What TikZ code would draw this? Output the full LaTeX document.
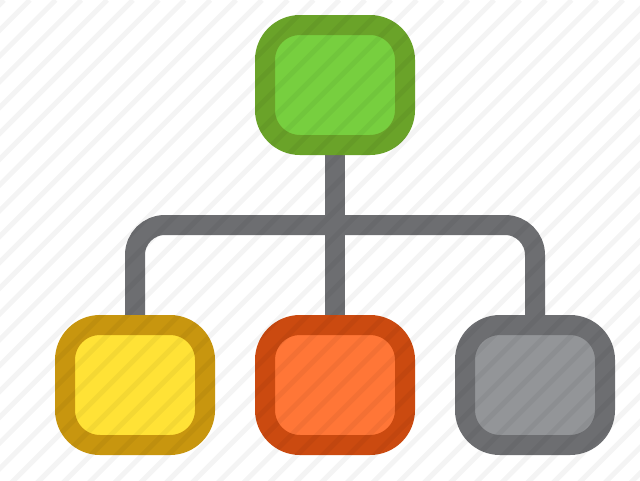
\documentclass[tikz,border=0pt]{standalone}
\pgfdeclarelayer{back}
\pgfdeclarelayer{wires}
\pgfdeclarelayer{front}
\pgfsetlayers{back,wires,main,front}
\definecolor{greenO}{HTML}{6AA329}
\definecolor{greenI}{HTML}{77CF3F}
\definecolor{yellowO}{HTML}{C8960F}
\definecolor{yellowI}{HTML}{FFE236}
\definecolor{orangeO}{HTML}{CB4A10}
\definecolor{orangeI}{HTML}{FF7637}
\definecolor{grayO}{HTML}{6D6E71}
\definecolor{grayI}{HTML}{939598}
\tikzset{
  box/.style={draw=#1O, fill=#1I, line width=20pt, rounded corners=35pt,
    minimum width=140pt, minimum height=120pt, inner sep=0pt, outer sep=0pt},
  wire/.style={draw=grayO, line width=20pt},
  stripe/.style={black, opacity=0.045, line width=5pt}
}
\begin{document}
\begin{tikzpicture}[x=1pt,y=-1pt]
\useasboundingbox (0,0) rectangle (640,480);
\begin{pgfonlayer}{back}
  \fill[white] (0,0) rectangle (640,480);
\end{pgfonlayer}
\node[box=green]  (top)    at (335,85)  {};
\node[box=yellow] (yellow) at (135,385) {};
\node[box=orange] (orange) at (335,385) {};
\node[box=gray]   (gray)   at (535,385) {};
\coordinate (bus) at (335,225);
\begin{pgfonlayer}{wires}
  \draw[wire, rounded corners=30pt] (yellow.north) |- (bus) -| (gray.north);
  \draw[wire] (top.south) -- (orange.north);
\end{pgfonlayer}
\begin{pgfonlayer}{front}
  \clip (0,0) rectangle (640,480);
  \foreach \c in {4,29.8,...,1160} {
    \draw[stripe] (\c,0) -- (\c-600,600);
  }
\end{pgfonlayer}
\end{tikzpicture}
\end{document}
